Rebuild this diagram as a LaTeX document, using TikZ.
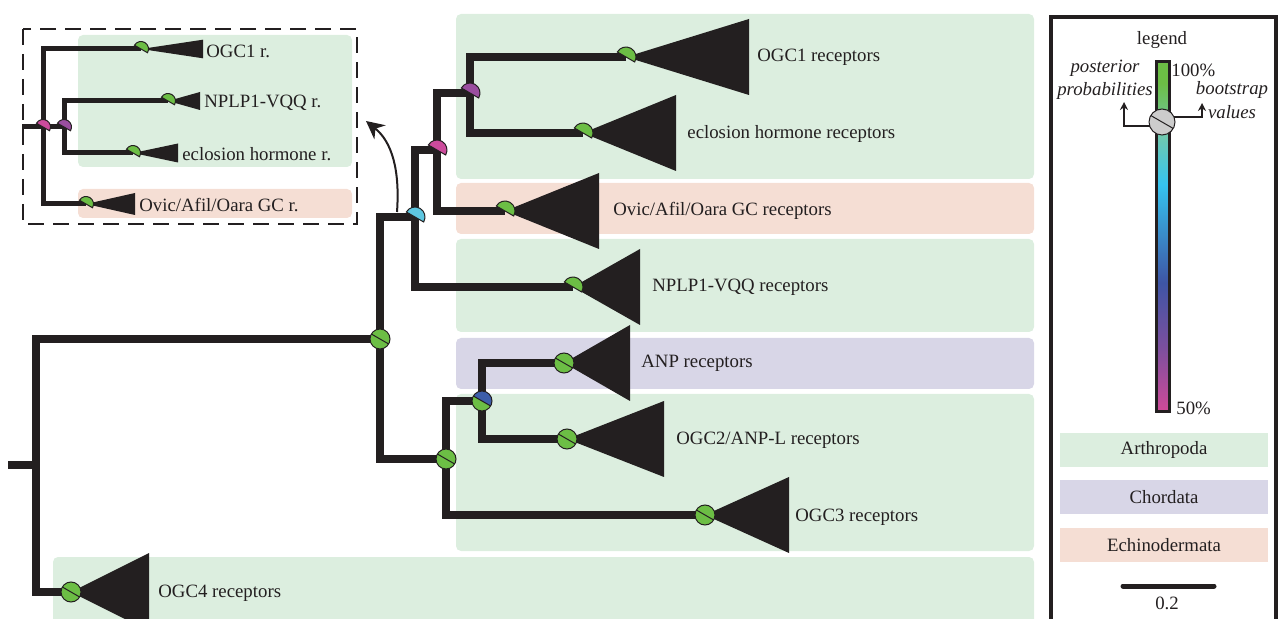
\documentclass[tikz,border=0pt]{standalone}
\usepackage{fontspec}
\setmainfont{Liberation Serif}
\usepackage{tikz}
\usetikzlibrary{arrows.meta,positioning,calc}

\definecolor{arth}{HTML}{DCEEDF}
\definecolor{chor}{HTML}{D8D6E7}
\definecolor{echi}{HTML}{F5DED4}
\definecolor{ink}{HTML}{231F20}
\definecolor{pgrn}{HTML}{6CBE45}
\definecolor{pcya}{HTML}{5EC6E0}
\definecolor{pmag}{HTML}{CC4B9C}
\definecolor{ppur}{HTML}{9A4E9F}
\definecolor{pblu}{HTML}{3D5DA9}
\definecolor{pgry}{HTML}{CCCCCC}
\definecolor{pteal}{HTML}{70C8AE}
\definecolor{pcyb}{HTML}{35C4EF}
\definecolor{pblb}{HTML}{3E55A5}
\definecolor{ppub}{HTML}{7D4F9E}
\definecolor{pmab}{HTML}{D04A98}

\pgfdeclareverticalshading{supbar}{100bp}{color(0bp)=(pmab); color(25bp)=(pmab); color(34bp)=(ppub); color(43.5bp)=(pblb); color(57.5bp)=(pcyb); color(64.5bp)=(pteal); color(72bp)=(pgrn); color(100bp)=(pgrn)}

% support symbols: position, radius, bootstrap colour, posterior colour
\newcommand\supfull[4]{%
  \fill[#4] (#1) ++(30:#2) arc[start angle=30, end angle=210, radius=#2] -- cycle;
  \fill[#3] (#1) ++(30:#2) arc[start angle=30, end angle=-150, radius=#2] -- cycle;
  \draw[ink, line width=0.5pt] (#1) circle[radius=#2] (#1) ++(30:#2) -- ++(210:2*#2);}
\newcommand\suphalf[3]{%
  \filldraw[fill=#3, draw=ink, line width=0.5pt] (#1) ++(30:#2) arc[start angle=30, end angle=-150, radius=#2] -- cycle;}
% collapsed clade: tip, length, half height
\newcommand\clade[3]{%
  \fill[ink] (#1) -- ++(#2,-#3) -- ++(0,2*#3) -- cycle;}

\begin{document}
\begin{tikzpicture}[
    x=0.5pt, y=-0.5pt,
    branch/.style={draw=ink, line width=3.6pt},
    ibranch/.style={draw=ink, line width=2.5pt},
    lab/.style={font=\fontsize{9.4}{11.6}\selectfont, text=ink, inner sep=0pt},
    box/.style={rounded corners=2.5pt},
    legbox/.style={lab, minimum width=104pt, minimum height=17pt},
    arr/.style={-{Stealth[length=9pt, width=9pt]}, draw=ink, line width=1pt},
    legarr/.style={-{Stealth[length=4pt, width=4pt]}, draw=ink, line width=0.8pt}
]
    \useasboundingbox (0,0) rectangle (1284,619);

    % clade backgrounds
    \fill[arth, box] (456,14) rectangle (1034,179);
    \fill[echi, box] (456,183) rectangle (1034,234);
    \fill[arth, box] (456,239) rectangle (1034,332);
    \fill[chor, box] (456,338) rectangle (1034,389);
    \fill[arth, box] (456,394) rectangle (1034,551);
    \fill[arth, box] (53,557) rectangle (1034,650);

    % tree
    \coordinate (stub) at (8,465);
    \coordinate (rt) at (36,465);
    \coordinate (n1) at (380,339);
    \coordinate (n2) at (415,217);
    \coordinate (n3) at (437,150);
    \coordinate (n4) at (470,93);
    \coordinate (n5) at (446,459);
    \coordinate (n6) at (482,401);
    \coordinate (ogc1) at (626,57);
    \coordinate (eclo) at (583,133);
    \coordinate (ovic) at (505,211);
    \coordinate (nplp) at (573,287);
    \coordinate (anp) at (564,363);
    \coordinate (ogc2) at (567,439);
    \coordinate (ogc3) at (705,515);
    \coordinate (ogc4) at (71,592);

    \draw[branch] (stub) -- (rt);
    \draw[branch] (n1) -| (rt) |- (ogc4);
    \draw[branch] (n2) -| (n1) |- (n5);
    \draw[branch] (n3) -| (n2) |- (nplp);
    \draw[branch] (n4) -| (n3) |- (ovic);
    \draw[branch] (ogc1) -| (n4) |- (eclo);
    \draw[branch] (n6) -| (n5) |- (ogc3);
    \draw[branch] (anp) -| (n6) |- (ogc2);

    \clade{ogc1}{123}{38}
    \clade{eclo}{93}{38}
    \clade{ovic}{94}{38}
    \clade{nplp}{67}{38}
    \clade{anp}{66}{38}
    \clade{ogc2}{97}{38}
    \clade{ogc3}{84}{38}
    \clade{ogc4}{78}{39}

    \supfull{n1}{10}{pgrn}{pgrn}
    \supfull{n5}{10}{pgrn}{pgrn}
    \supfull{n6}{10}{pblu}{pgrn}
    \supfull{anp}{10}{pgrn}{pgrn}
    \supfull{ogc2}{10}{pgrn}{pgrn}
    \supfull{ogc3}{10}{pgrn}{pgrn}
    \supfull{ogc4}{10}{pgrn}{pgrn}
    \suphalf{n2}{10}{pcya}
    \suphalf{n3}{10}{pmag}
    \suphalf{n4}{10}{ppur}
    \suphalf{ogc1}{10}{pgrn}
    \suphalf{eclo}{10}{pgrn}
    \suphalf{ovic}{10}{pgrn}
    \suphalf{nplp}{10}{pgrn}

    \node[lab, anchor=west] (tOgc1) at (757,57) {OGC1 receptors};
    \node[lab, anchor=west] (tEclo) at (687,134) {eclosion hormone receptors};
    \node[lab, anchor=west] (tOvic) at (613,211) {Ovic/Afil/Oara GC receptors};
    \node[lab, anchor=west] (tNplp) at (652,287) {NPLP1-VQQ receptors};
    \node[lab, anchor=west] (tAnp) at (641,363) {ANP receptors};
    \node[lab, anchor=west] (tOgc2) at (676,440) {OGC2/ANP-L receptors};
    \node[lab, anchor=west] (tOgc3) at (795,517) {OGC3 receptors};
    \node[lab, anchor=west] (tOgc4) at (158,593) {OGC4 receptors};

    % arrow to the inset
    \coordinate (arrS) at (397,212);
    \coordinate (arrE) at (366,121);
    \draw[arr] (arrS) .. controls (400,170) and (392,142) .. (arrE);

    % inset
    \fill[arth, box] (78,35) rectangle (352,167);
    \fill[echi, box] (78,189) rectangle (352,218);
    \draw[ink, line width=1pt, dash pattern=on 8pt off 4.5pt] (23,29) rectangle (357,224);

    \coordinate (istub) at (22,127);
    \coordinate (ir) at (43,127);
    \coordinate (is) at (64,127);
    \coordinate (iogc1) at (141,49);
    \coordinate (inplp) at (168,101);
    \coordinate (ieclo) at (133,153);
    \coordinate (iovic) at (86,204);

    \draw[ibranch] (istub) -- (is);
    \draw[ibranch] (iogc1) -| (ir) |- (iovic);
    \draw[ibranch] (inplp) -| (is) |- (ieclo);

    \clade{iogc1}{62}{9.3}
    \clade{inplp}{32}{9}
    \clade{ieclo}{45}{9.5}
    \clade{iovic}{49}{11}

    \suphalf{ir}{7.5}{pmag}
    \suphalf{is}{7.5}{ppur}
    \suphalf{iogc1}{7.5}{pgrn}
    \suphalf{inplp}{7.5}{pgrn}
    \suphalf{ieclo}{7.5}{pgrn}
    \suphalf{iovic}{7.5}{pgrn}

    \node[lab, anchor=west] (iOgc1) at (206,51) {OGC1 r.};
    \node[lab, anchor=west] (iNplp) at (204,103) {NPLP1-VQQ r.};
    \node[lab, anchor=west] (iEclo) at (182,154) {eclosion hormone r.};
    \node[lab, anchor=west] (iOvic) at (139,205) {Ovic/Afil/Oara GC r.};

    % legend
    \draw[ink, line width=2pt] (1051,17) rectangle (1276,660);
    \node[lab] (lTitle) at (1162,40) {legend};
    \shade[shading=supbar] (1156,62) rectangle (1169,412);
    \draw[ink, line width=1.5pt] (1156,62) rectangle (1169,412);
    \node[lab, anchor=west] (lTop) at (1171,70) {100\%};
    \node[lab, anchor=west] (lBot) at (1176,408) {50\%};

    \coordinate (legc) at (1162,122);
    \supfull{legc}{13}{pgry}{pgry}
    \coordinate (lpS) at (1150,126);
    \coordinate (lpE) at (1124,102);
    \coordinate (lbS) at (1174,117);
    \coordinate (lbE) at (1202,103);
    \draw[legarr] (lpS) -| (lpE);
    \draw[legarr] (lbS) -| (lbE);
    \node[lab, align=center, font=\fontsize{9.4}{11.6}\selectfont\itshape] (lPost) at (1105,80) {posterior\\probabilities};
    \node[lab, align=center, font=\fontsize{9.4}{12}\selectfont\itshape] (lBoot) at (1232,100) {bootstrap\\values};

    \node[legbox, fill=arth] (lArth) at (1164,450) {Arthropoda};
    \node[legbox, fill=chor] (lChor) at (1164,497) {Chordata};
    \node[legbox, fill=echi] (lEchi) at (1164,545) {Echinodermata};

    \coordinate (sbL) at (1123,586);
    \coordinate (sbR) at (1214,586);
    \draw[ink, line width=2.5pt, line cap=round] (sbL) -- (sbR);
    \node[lab] (lScale) at (1167,603) {0.2};
\end{tikzpicture}
\end{document}
